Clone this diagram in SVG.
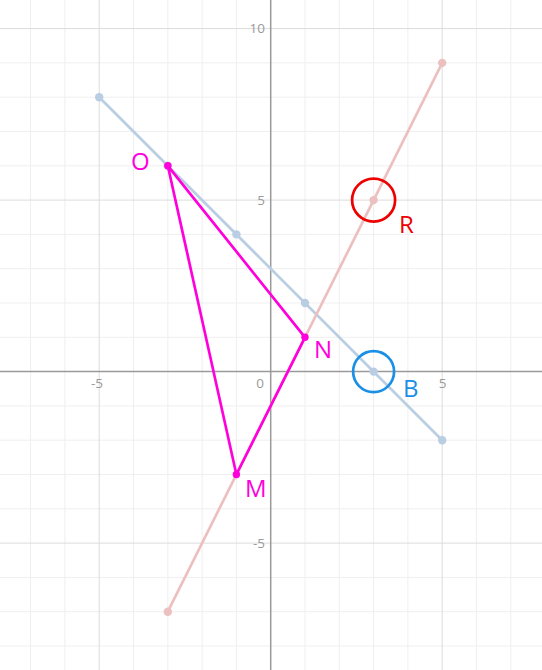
<svg xmlns="http://www.w3.org/2000/svg" width="542" height="670" viewBox="0 0 542 670">
<style>
.minor{stroke:#efefef;stroke-width:1;fill:none}
.major{stroke:#dcdcdc;stroke-width:1;fill:none}
.axis{stroke:#9a9a9a;stroke-width:1.5;fill:none}
.tick{font-family:"Open Sans","Liberation Sans",sans-serif;font-size:13.5px;fill:#9a9a9a}
.lbl{font-family:"Open Sans","Liberation Sans",sans-serif;font-size:24px}
.tri{stroke:#ff00dd;stroke-width:2.7;fill:none;stroke-linejoin:round}
</style>
<rect width="542" height="670" fill="#ffffff"/>
<g id="grid">
<g class="minor">
<path d="M30.6 0V670M64.9 0V670M133.5 0V670M167.8 0V670M202.1 0V670M236.4 0V670M305 0V670M339.3 0V670M373.6 0V670M407.9 0V670M476.5 0V670M510.8 0V670"/>
<path d="M0 62.9H542M0 97.2H542M0 131.5H542M0 165.8H542M0 234.4H542M0 268.7H542M0 303H542M0 337.3H542M0 405.9H542M0 440.2H542M0 474.5H542M0 508.8H542M0 577.4H542M0 611.7H542M0 646H542"/>
</g>
<g class="major">
<path d="M99.2 0V670M442.2 0V670M0 28.6H542M0 200.1H542M0 543.1H542"/>
</g>
<g class="axis">
<path d="M270.7 0V670M0 371.6H542"/>
</g>
<g class="tick">
<text x="265" y="33" text-anchor="end">10</text>
<text x="265" y="205" text-anchor="end">5</text>
<text x="265" y="548" text-anchor="end">-5</text>
<text x="97" y="388" text-anchor="middle">-5</text>
<text x="264" y="388" text-anchor="end">0</text>
<text x="442.5" y="388" text-anchor="middle">5</text>
</g>
</g>
<g id="connectors">
<path id="line-blue" d="M99.2 97.2L442.2 440.2" stroke="#b9cde3" stroke-width="2.7" fill="none"/>
<path id="line-red" d="M167.8 611.7L442.2 62.9" stroke="#edc0c0" stroke-width="2.7" fill="none"/>
<g fill="#b9cde3">
<circle cx="99.2" cy="97.2" r="4.2"/>
<circle cx="167.8" cy="165.8" r="4.2"/>
<circle cx="236.4" cy="234.4" r="4.2"/>
<circle cx="305" cy="303" r="4.2"/>
<circle cx="373.6" cy="371.6" r="4.2"/>
<circle cx="442.2" cy="440.2" r="4.2"/>
</g>
<g fill="#edc0c0">
<circle cx="167.8" cy="611.7" r="4.2"/>
<circle cx="373.6" cy="200.1" r="4.2"/>
<circle cx="442.2" cy="62.9" r="4.2"/>
</g>
<path id="triangle" class="tri" d="M167.8 165.8L305 337.3L236.4 474.5Z"/>
</g>
<g id="node-O">
<circle cx="167.8" cy="165.8" r="3.7" fill="#ff00dd"/>
<text class="lbl" x="131" y="170" fill="#ff00dd">O</text>
</g>
<g id="node-N">
<circle cx="305" cy="337.3" r="3.7" fill="#ff00dd"/>
<text class="lbl" x="314" y="358" fill="#ff00dd">N</text>
</g>
<g id="node-M">
<circle cx="236.4" cy="474.5" r="3.7" fill="#ff00dd"/>
<text class="lbl" x="245" y="497" fill="#ff00dd">M</text>
</g>
<g id="node-R">
<circle cx="373.6" cy="200.1" r="21.5" fill="none" stroke="#ee0000" stroke-width="2.7"/>
<text class="lbl" x="399" y="233" fill="#ee0000">R</text>
</g>
<g id="node-B">
<circle cx="373.6" cy="371.6" r="20.5" fill="none" stroke="#1a8fe6" stroke-width="2.7"/>
<text class="lbl" x="403" y="397" fill="#1a8fe6">B</text>
</g>
</svg>
